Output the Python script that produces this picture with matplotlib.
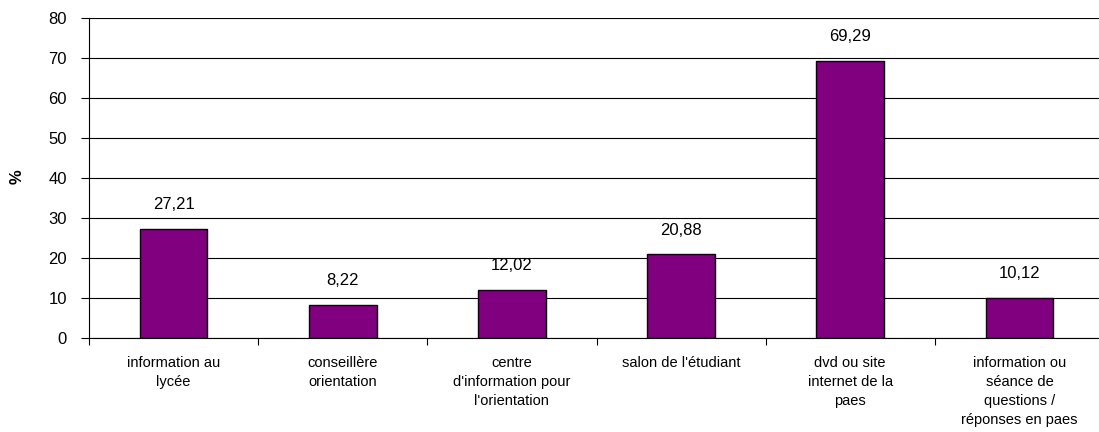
import matplotlib
matplotlib.use("Agg")
import matplotlib.pyplot as plt
import numpy as np

categories = [
    "information au\nlycée",
    "conseillère\norientation",
    "centre\nd'information pour\nl'orientation",
    "salon de l'étudiant",
    "dvd ou site\ninternet de la\npaes",
    "information ou\nséance de\nquestions /\nréponses en paes",
]
values = [27.21, 8.22, 12.02, 20.88, 69.29, 10.12]
value_labels = ["27,21", "8,22", "12,02", "20,88", "69,29", "10,12"]
yticks = [0, 10, 20, 30, 40, 50, 60, 70, 80]

plt.rcParams['font.family'] = ['Liberation Sans', 'DejaVu Sans']

W, H = 1099, 432
fig = plt.figure(figsize=(W / 100, H / 100), dpi=100)
left, right, bottom, top = 89, 1104, 338, 18
ax = fig.add_axes([left / W, 1 - bottom / H, (right - left) / W, (bottom - top) / H])

x = np.arange(len(categories))
ax.bar(x, values, width=0.4, color="#800080", edgecolor="black", linewidth=1.0, zorder=3)

for xi, v, lab in zip(x, values, value_labels):
    ax.annotate(lab, (xi, v), xytext=(0, 12), textcoords="offset points",
                ha="center", va="bottom", fontsize=12)

ax.set_xlim(-0.5, len(categories) - 0.5)
ax.set_ylim(0, 80)
ax.set_yticks(yticks)
ax.set_yticklabels([str(t) for t in yticks], fontsize=12)
ax.yaxis.grid(True, color="black", linewidth=0.8, zorder=0)
ax.set_axisbelow(True)

ax.set_xticks(x)
ax.set_xticklabels(categories, fontsize=10.5, linespacing=1.45)
ax.set_xticks(np.arange(len(categories) + 1) - 0.5, minor=True)
ax.tick_params(axis="x", which="major", length=0, pad=13)
ax.tick_params(axis="x", which="minor", length=5, width=0.8, direction="out", color="black")
ax.tick_params(axis="y", length=6, width=0.8, direction="out", pad=10, color="black")

for s in ["top", "right"]:
    ax.spines[s].set_visible(False)
ax.spines["left"].set_linewidth(0.8)
ax.spines["bottom"].set_linewidth(0.8)

fig.text(17 / W, 1 - 177 / H, "%", rotation=90, ha="center", va="center",
         fontsize=12, fontweight="bold")

fig.savefig("out.png", dpi=100)
